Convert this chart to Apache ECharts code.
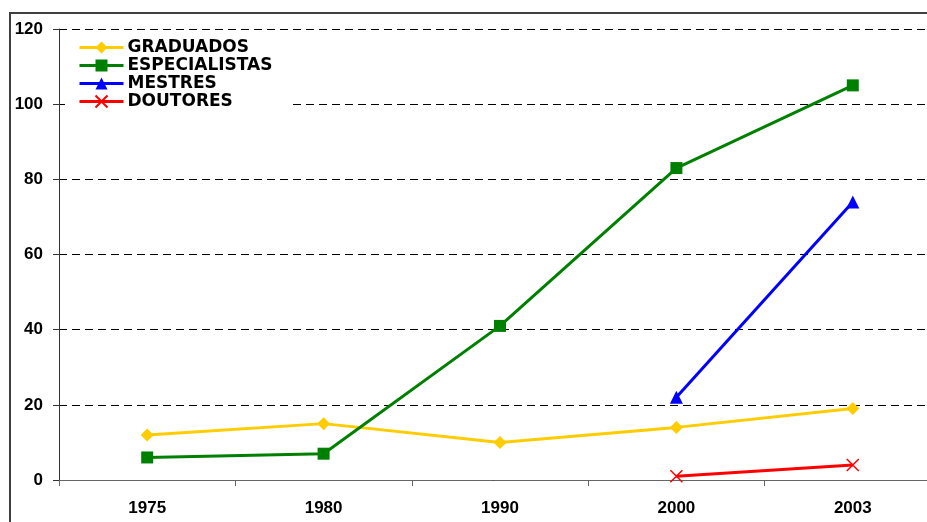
<!DOCTYPE html>
<html>
<head>
<meta charset="utf-8">
<script src="https://cdn.jsdelivr.net/npm/echarts@6/dist/echarts.min.js"></script>
<style>
  html, body { margin: 0; padding: 0; background: #fff; }
  #chart { width: 927px; height: 522px; }
</style>
</head>
<body>
<div id="chart"></div>
<script>
// Years on the category axis
const years = ['1975', '1980', '1990', '2000', '2003'];

// Number of staff by qualification level
const graduados = [12, 15, 10, 14, 19];
const especialistas = [6, 7, 41, 83, 105];
const mestres = [null, null, null, 22, 74];
const doutores = [null, null, null, 1, 4];

// Value axis range
const yMin = 0;
const yMax = 120;
const yStep = 20;

const AXIS_FONT = '"Liberation Sans", Arial, sans-serif';
const LEGEND_FONT = '"DejaVu Sans", "Liberation Sans", sans-serif';
const crossPath = 'path://M0,0L10,10M10,0L0,10';

function lineSeries(name, data, color, symbol, size, extra) {
  return Object.assign({
    name: name,
    type: 'line',
    data: data,
    symbol: symbol,
    symbolSize: size,
    showSymbol: true,
    lineStyle: { color: color, width: 3 },
    itemStyle: { color: color },
    emphasis: { disabled: true },
    animation: false
  }, extra || {});
}

const chart = echarts.init(document.getElementById('chart'), null, { renderer: 'canvas' });

chart.setOption({
  backgroundColor: '#fff',
  animation: false,
  graphic: [{
    type: 'rect',
    shape: { x: 10, y: 13, width: 960, height: 560 },
    style: { fill: 'none', stroke: '#404040', lineWidth: 2 },
    z: -1
  }],
  // plot area runs past the right edge of the canvas
  grid: {
    left: 59, top: 29, bottom: 42, width: 882,
    containLabel: false, outerBoundsMode: 'none'
  },
  legend: {
    orient: 'vertical',
    left: 65,
    top: 34,
    padding: [5, 17, 6, 13],
    backgroundColor: '#fff',
    itemWidth: 44,
    itemHeight: 15,
    itemGap: 1,
    lineStyle: { width: 3 },
    textStyle: {
      fontFamily: LEGEND_FONT, fontWeight: 'bold', fontSize: 17, lineHeight: 17,
      color: '#000', padding: [0, 0, 0, -1]
    },
    data: ['GRADUADOS', 'ESPECIALISTAS', 'MESTRES', 'DOUTORES'],
    z: 3
  },
  xAxis: {
    type: 'category',
    data: years,
    boundaryGap: true,
    axisLine: { lineStyle: { color: '#666', width: 1 } },
    axisTick: { show: true, length: 6, alignWithLabel: false, lineStyle: { color: '#666' } },
    axisLabel: { margin: 20, fontFamily: AXIS_FONT, fontWeight: 'bold', fontSize: 17, color: '#000' },
    splitLine: { show: false }
  },
  yAxis: {
    type: 'value',
    min: yMin,
    max: yMax,
    interval: yStep,
    axisLine: { show: true, lineStyle: { color: '#333', width: 1 } },
    axisTick: { show: true, length: 6, lineStyle: { color: '#333' } },
    axisLabel: { margin: 16, fontFamily: AXIS_FONT, fontWeight: 'bold', fontSize: 17, color: '#000' },
    splitLine: { show: true, lineStyle: { color: '#000', width: 1, type: [8, 5] } }
  },
  series: [
    lineSeries('GRADUADOS', graduados, '#FFCC00', 'diamond', 13),
    lineSeries('ESPECIALISTAS', especialistas, '#008000', 'rect', 12),
    lineSeries('MESTRES', mestres, '#0000FF', 'triangle', 13),
    lineSeries('DOUTORES', doutores, '#FF0000', crossPath, 12, {
      itemStyle: { color: 'rgba(0,0,0,0)', borderColor: '#FF0000', borderWidth: 1.5 }
    })
  ]
});
</script>
</body>
</html>
